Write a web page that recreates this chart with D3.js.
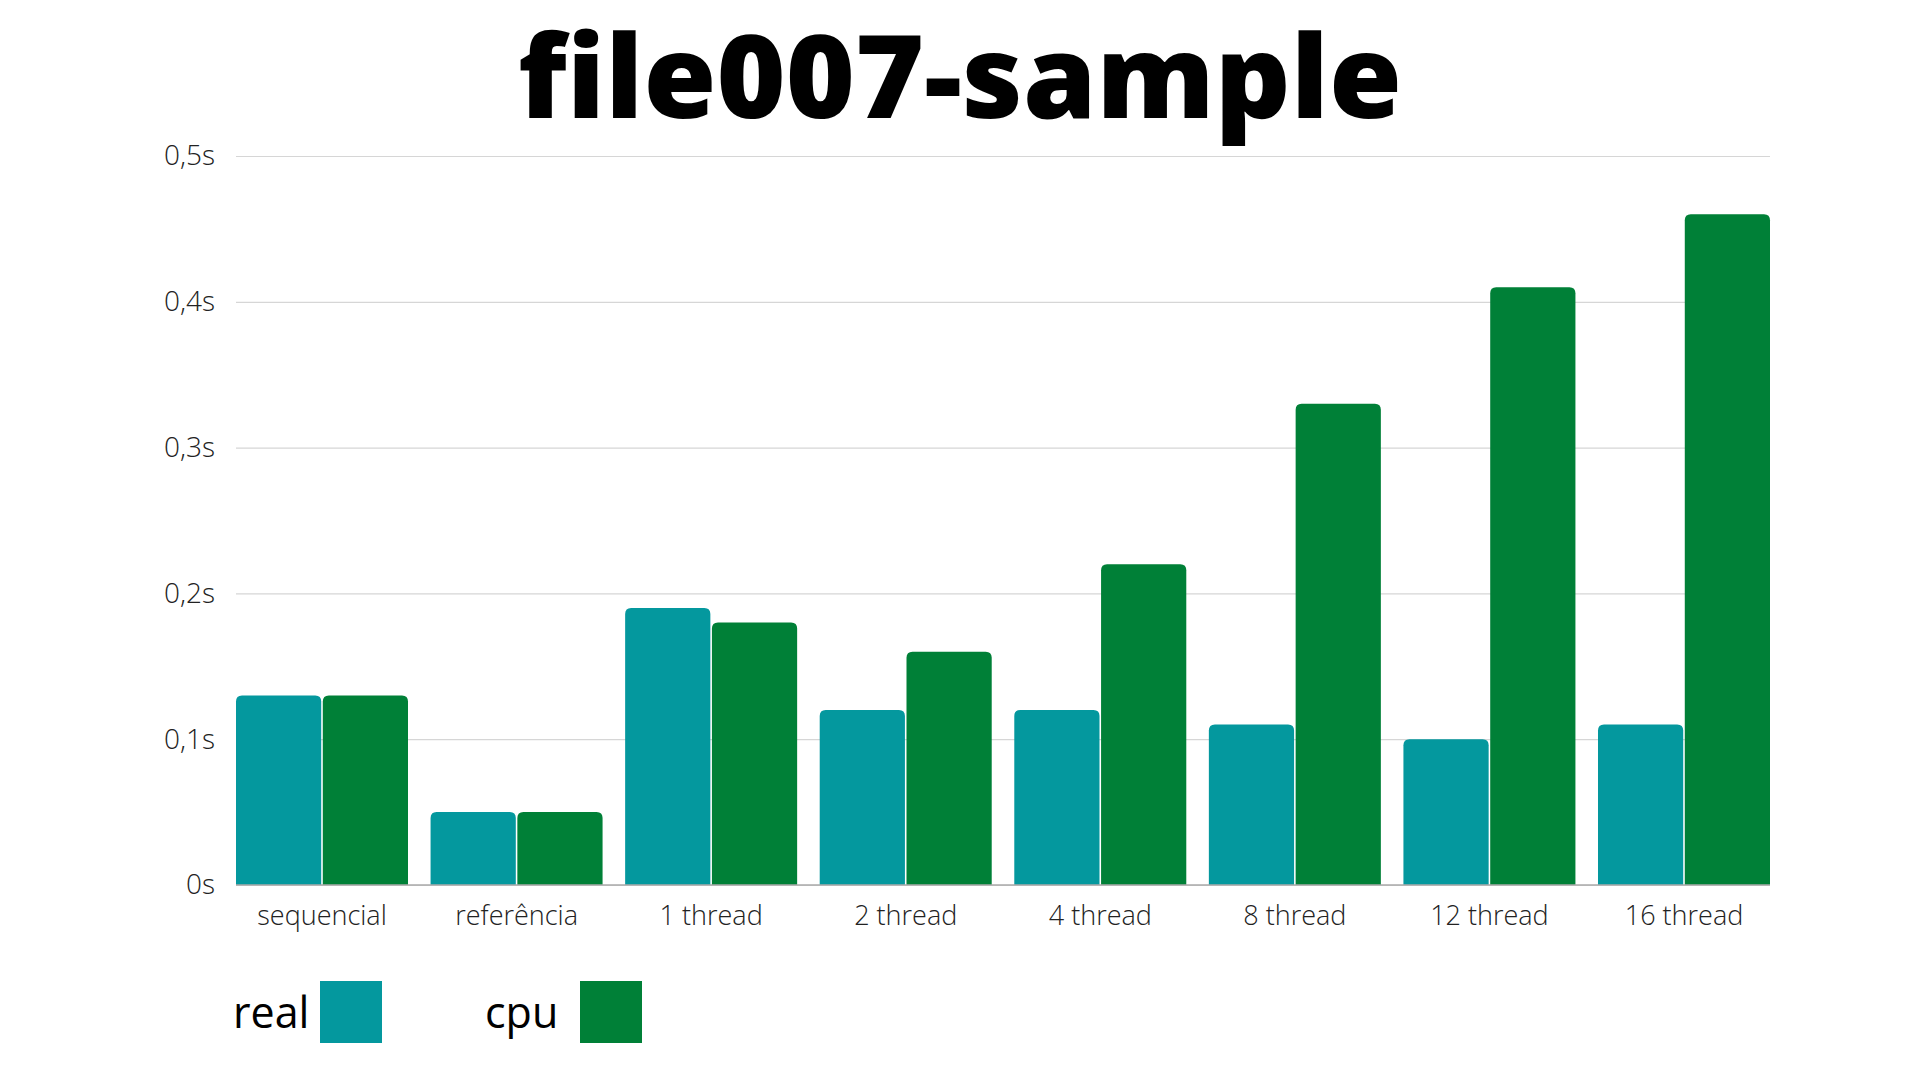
<!DOCTYPE html>
<html>
<head>
<meta charset="utf-8">
<script src="https://cdn.jsdelivr.net/npm/d3@7"></script>
<style>
  body { margin: 0; background: #fff; }
  svg { display: block; }
</style>
</head>
<body>
<div id="chart"></div>
<script>
const categories = ['sequencial', 'referência', '1 thread', '2 thread', '4 thread', '8 thread', '12 thread', '16 thread'];
const seriesNames = ['real', 'cpu'];
const realValues = [0.13, 0.05, 0.19, 0.12, 0.12, 0.11, 0.10, 0.11];
const cpuValues  = [0.13, 0.05, 0.18, 0.16, 0.22, 0.33, 0.41, 0.46];
const yTicks = [0, 0.1, 0.2, 0.3, 0.4, 0.5];
const seriesColors = ['#04989e', '#008037'];

const W = 1920, H = 1080;
const margin = {top: 156, right: 150, bottom: 195, left: 236};
const width = W - margin.left - margin.right,
      height = H - margin.top - margin.bottom;

const data = categories.map((c, i) => ({key: c, values: [
  {name: 'real', value: realValues[i]},
  {name: 'cpu', value: cpuValues[i]}
]}));

const x0 = d3.scaleBand().domain(categories).range([0, width]).paddingInner(0.116).paddingOuter(0);
const x1 = d3.scaleBand().domain(seriesNames).range([0, x0.bandwidth()]).paddingInner(0.018);
const y = d3.scaleLinear().domain([0, 0.5]).range([height, 0]);
const color = d3.scaleOrdinal().domain(seriesNames).range(seriesColors);

const svg = d3.select('#chart').append('svg')
    .attr('width', W).attr('height', H);

svg.append('text')
    .attr('x', W / 2).attr('y', 118)
    .attr('text-anchor', 'middle')
    .attr('font-family', '"Open Sans"')
    .attr('font-weight', 800)
    .attr('font-size', 115)
    .attr('textLength', 884)
    .attr('lengthAdjust', 'spacingAndGlyphs')
    .attr('fill', '#000')
    .text('file007-sample');

const g = svg.append('g').attr('transform', `translate(${margin.left},${margin.top})`);

// gridlines + y labels
const yAxis = d3.axisLeft(y).tickValues(yTicks)
    .tickSize(-width).tickPadding(21)
    .tickFormat(d => d === 0 ? '0s' : d3.format('.1f')(d).replace('.', ',') + 's');
g.append('g').attr('class', 'y').call(yAxis)
  .call(a => a.select('.domain').remove())
  .call(a => a.selectAll('.tick line').attr('stroke', '#d6d6d6').attr('stroke-width', 1.2))
  .call(a => a.selectAll('.tick text')
      .attr('font-family', '"Open Sans"').attr('font-weight', 300)
      .attr('font-size', 28).attr('fill', '#222'));

function topRounded(x, yy, w, h, r) {
  r = Math.min(r, h, w / 2);
  return `M${x},${yy + h}V${yy + r}Q${x},${yy} ${x + r},${yy}H${x + w - r}Q${x + w},${yy} ${x + w},${yy + r}V${yy + h}Z`;
}

const slice = g.selectAll('.slice').data(data).enter().append('g')
    .attr('transform', d => `translate(${x0(d.key)},0)`);

slice.selectAll('path').data(d => d.values).enter().append('path')
    .attr('d', d => topRounded(x1(d.name), y(d.value), x1.bandwidth(), height - y(d.value), 6))
    .attr('fill', d => color(d.name));

// baseline
g.append('line').attr('x1', 0).attr('x2', width)
    .attr('y1', height).attr('y2', height)
    .attr('stroke', '#aaaaaa').attr('stroke-width', 1.5);

// x labels
const xAxis = d3.axisBottom(x0).tickSize(0).tickPadding(0);
g.append('g').attr('class', 'x').attr('transform', `translate(0,${height})`).call(xAxis)
  .call(a => a.select('.domain').remove())
  .call(a => a.selectAll('.tick text')
      .attr('dy', 0).attr('y', 40)
      .attr('font-family', '"Open Sans"').attr('font-weight', 300)
      .attr('font-size', 27).attr('fill', '#222'));

// legend
const legendText = [233, 485];
const legendBox = [320, 580];
const legend = svg.selectAll('.legend').data(seriesNames).enter().append('g');
legend.append('text')
    .attr('x', (d, i) => legendText[i]).attr('y', 1028)
    .attr('font-family', '"Open Sans"').attr('font-size', 43).attr('fill', '#000')
    .text(d => d);
legend.append('rect')
    .attr('x', (d, i) => legendBox[i]).attr('y', 981)
    .attr('width', 62).attr('height', 62)
    .attr('fill', d => color(d));
</script>
</body>
</html>
